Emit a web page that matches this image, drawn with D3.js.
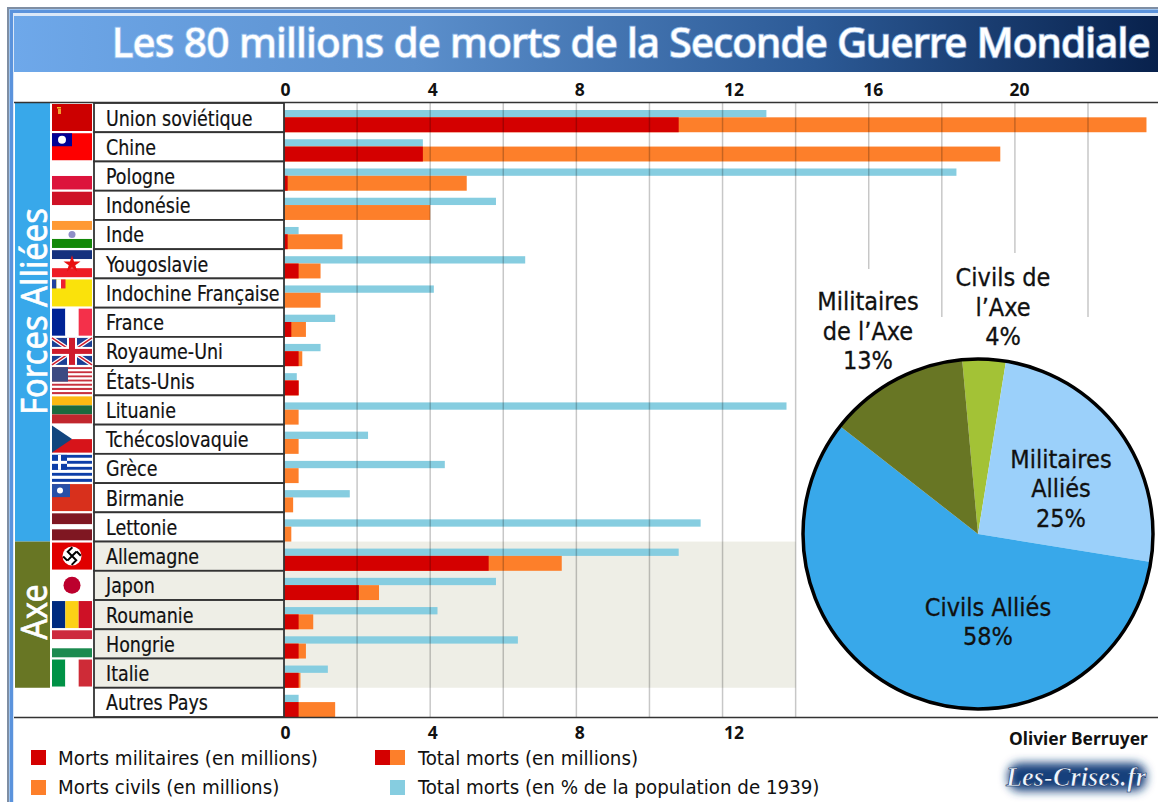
<!DOCTYPE html>
<html>
<head>
<meta charset="utf-8">
<script src="https://cdn.jsdelivr.net/npm/d3@7"></script>
<style>
  body { margin: 0; background: #fff; }
  svg { display: block; }
  text { font-family: "DejaVu Sans Condensed", "DejaVu Sans", sans-serif; fill: #111; }
  .tick text { font-family: "Noto Sans", sans-serif; font-weight: 700; font-size: 17.5px; fill: #111; }
</style>
</head>
<body>
<div id="chart"></div>
<script>
// Values
var countries = ["Union soviétique", "Chine", "Pologne", "Indonésie", "Inde", "Yougoslavie",
    "Indochine Française", "France", "Royaume-Uni", "États-Unis", "Lituanie", "Tchécoslovaquie",
    "Grèce", "Birmanie", "Lettonie", "Allemagne", "Japon", "Roumanie", "Hongrie", "Italie", "Autres Pays"];
var militaryDeaths = [10.8, 3.8, 0.1, 0, 0.1, 0.4, 0, 0.2, 0.4, 0.4, 0, 0, 0, 0, 0, 5.6, 2.05, 0.4, 0.4, 0.4, 0.4];
var totalDeaths = [23.6, 19.6, 5.0, 4.0, 1.6, 1.0, 1.0, 0.6, 0.5, 0.4, 0.4, 0.4, 0.4, 0.25, 0.2, 7.6, 2.6, 0.8, 0.6, 0.45, 1.4];
var populationPct = [13.2, 3.8, 18.4, 5.8, 0.4, 6.6, 4.1, 1.4, 1.0, 0.35, 13.75, 2.3, 4.4, 1.8, 11.4, 10.8, 5.8, 4.2, 6.4, 1.2, 0.4];

var topTicks = [0, 4, 8, 12, 16, 20];
var bottomTicks = [0, 4, 8, 12];
var gridValues = [2, 4, 6, 8, 10, 12, 14, 16, 18, 20, 22];

var pieLabels = ["Civils de l’Axe", "Militaires Alliés", "Civils Alliés", "Militaires de l’Axe"];
var pieValues = [4, 25, 58, 13];
var pieColors = ["#a3c236", "#9bd0fa", "#38a8ea", "#687624"];

var w = 1158, h = 802;
var red = "#d40000", orange = "#fd7f2a", blue = "#86cde0";

var svg = d3.select("#chart").append("svg").attr("width", w).attr("height", h);
var defs = svg.append("defs");

var titleGrad = defs.append("linearGradient").attr("id", "titleGrad");
titleGrad.append("stop").attr("offset", "0%").attr("stop-color", "#6ea8ea");
titleGrad.append("stop").attr("offset", "35%").attr("stop-color", "#5b8fcc");
titleGrad.append("stop").attr("offset", "70%").attr("stop-color", "#2c5a96");
titleGrad.append("stop").attr("offset", "100%").attr("stop-color", "#08214c");

defs.append("filter").attr("id", "blur").attr("x", "-30%").attr("y", "-50%").attr("width", "160%").attr("height", "200%")
    .append("feGaussianBlur").attr("stdDeviation", 5);

// Scales
var x = d3.scaleLinear().domain([0, 22]).range([284, 1088]);
var y = d3.scaleBand().domain(countries).range([103, 717]);
var rowH = y.bandwidth();

// Window frame
svg.append("rect").attr("x", 7).attr("y", 7).attr("width", w).attr("height", h).attr("fill", "#7f8ea3");
svg.append("rect").attr("x", 9).attr("y", 9).attr("width", w).attr("height", h).attr("fill", "#9cc3f0");
svg.append("rect").attr("x", 10).attr("y", 10).attr("width", w).attr("height", h).attr("fill", "#5b93dc");
svg.append("rect").attr("x", 13).attr("y", 13).attr("width", w).attr("height", h).attr("fill", "#dbe8f8");
svg.append("rect").attr("x", 14).attr("y", 72).attr("width", w).attr("height", h).attr("fill", "#fff");

// Title
svg.append("rect").attr("x", 14).attr("y", 16).attr("width", w - 14).attr("height", 56).attr("fill", "url(#titleGrad)");
var titleText = "Les 80 millions de morts de la Seconde Guerre Mondiale";
var title = svg.append("text")
    .attr("x", 112).attr("y", 57)
    .style("font-family", "'Noto Sans', sans-serif").style("font-size", "40px")
    .style("fill", "#fff").style("stroke", "#fff").style("stroke-width", 0.5)
    .text(titleText);
// spread the letters to the width of the original title
title.style("letter-spacing", ((1038 - title.node().getComputedTextLength()) / titleText.length) + "px");
svg.insert(function() { return title.node().cloneNode(true); }, function() { return title.node(); })
    .style("stroke", "#a8cbf5").style("stroke-width", 2.6).style("stroke-opacity", 0.75);

// Axis background
svg.append("rect").attr("x", 94).attr("y", y("Allemagne"))
    .attr("width", x(14) - 94).attr("height", y("Italie") + rowH - y("Allemagne")).attr("fill", "#eeeee6");

// Bars
var rows = svg.append("g").selectAll("g").data(countries).enter().append("g")
    .attr("transform", function(d) { return "translate(0," + y(d) + ")"; });

rows.append("rect")
    .attr("x", x(0)).attr("y", rowH * 0.24)
    .attr("width", function(d, i) { return x(populationPct[i]) - x(0); })
    .attr("height", rowH * 0.25).attr("fill", blue);
rows.append("rect")
    .attr("x", x(0)).attr("y", rowH * 0.49)
    .attr("width", function(d, i) { return x(totalDeaths[i]) - x(0); })
    .attr("height", rowH * 0.51).attr("fill", orange);
rows.append("rect")
    .attr("x", x(0)).attr("y", rowH * 0.49)
    .attr("width", function(d, i) { return x(militaryDeaths[i]) - x(0); })
    .attr("height", rowH * 0.51).attr("fill", red);

// Grid lines stop above the pie labels
var gridEnd = { 16: 269, 18: 317, 20: 253, 22: 317 };
svg.append("g").selectAll("line").data(gridValues).enter().append("line")
    .attr("x1", function(d) { return x(d); }).attr("x2", function(d) { return x(d); })
    .attr("y1", 103).attr("y2", function(d) { return gridEnd[d] || 717; })
    .attr("stroke", "rgba(0,0,0,0.22)").attr("stroke-width", 1.5);

// Axes, the labels sit a little right of their grid line in the original
var tickShift = { 0: 1, 4: 2, 8: 3, 12: 11, 16: 4, 20: 4 };
function styleAxis(g) {
    g.select(".domain").remove();
    g.selectAll(".tick text").attr("dx", function(d) { return tickShift[d]; });
}
svg.append("g").attr("transform", "translate(0,96)")
    .call(d3.axisTop(x).tickValues(topTicks).tickSize(0).tickPadding(0))
    .call(styleAxis);
svg.append("g").attr("transform", "translate(0,739)")
    .call(d3.axisTop(x).tickValues(bottomTicks).tickSize(0).tickPadding(0))
    .call(styleAxis);

// Country cells
rows.append("rect")
    .attr("x", 94).attr("y", 0).attr("width", 190).attr("height", rowH)
    .attr("fill", function(d, i) { return i >= 15 && i <= 19 ? "#eeeee6" : "#fff"; })
    .attr("stroke", "#333").attr("stroke-width", 1.8);
rows.append("text")
    .attr("x", 106).attr("y", rowH * 0.77)
    .style("font-size", "21px").style("stroke", "#111").style("stroke-width", 0.2)
    .text(function(d) { return d; })
    .attr("textLength", function() { return this.getComputedTextLength() * 0.925; })
    .attr("lengthAdjust", "spacingAndGlyphs");

// Camps
function camp(first, last, color, label, center, len) {
    var top = y(first), bottom = y(last) + rowH;
    svg.append("rect").attr("x", 15).attr("y", top).attr("width", 35).attr("height", bottom - top).attr("fill", color);
    svg.append("text")
        .attr("transform", "translate(47," + center + ") rotate(-90)")
        .attr("text-anchor", "middle")
        .attr("textLength", len).attr("lengthAdjust", "spacingAndGlyphs")
        .style("font-family", "'Noto Sans', sans-serif").style("font-size", "36px")
        .style("fill", "#fff").style("stroke", "#fff").style("stroke-width", 0.6)
        .text(label);
}
camp("Union soviétique", "Lettonie", "#38a8ea", "Forces Alliées", 311.5, 207);
camp("Allemagne", "Italie", "#687624", "Axe", 612, 55);

// Flags, drawn in a 40x27 box
function hBands(g, colors) {
    colors.forEach(function(c, i) {
        g.append("rect").attr("y", i * 27 / colors.length).attr("width", 40).attr("height", 27 / colors.length).attr("fill", c);
    });
}
function vBands(g, colors) {
    colors.forEach(function(c, i) {
        g.append("rect").attr("x", i * 40 / colors.length).attr("width", 40 / colors.length).attr("height", 27).attr("fill", c);
    });
}
function box(g, bx, by, bw, bh, c) {
    g.append("rect").attr("x", bx).attr("y", by).attr("width", bw).attr("height", bh).attr("fill", c);
}
function disc(g, cx, cy, r, c) {
    g.append("circle").attr("cx", cx).attr("cy", cy).attr("r", r).attr("fill", c);
}
function bar(g, x1, y1, x2, y2, c, sw) {
    g.append("line").attr("x1", x1).attr("y1", y1).attr("x2", x2).attr("y2", y2).attr("stroke", c).attr("stroke-width", sw);
}
var flags = {
    "Union soviétique": function(g) { hBands(g, ["#cc0000"]); box(g, 5, 3, 4, 1.5, "#f2c230"); box(g, 6, 5, 3, 5, "#f2a030"); },
    "Chine": function(g) { hBands(g, ["#fe0000"]); box(g, 0, 0, 20, 13, "#000095"); disc(g, 10, 6.5, 4, "#fff"); },
    "Pologne": function(g) { hBands(g, ["#fff", "#dc143c"]); },
    "Indonésie": function(g) { hBands(g, ["#ce1126", "#fff"]); },
    "Inde": function(g) { hBands(g, ["#ff9933", "#fff", "#138808"]); disc(g, 20, 13.5, 3.5, "#8f8fc8"); },
    "Yougoslavie": function(g) {
        hBands(g, ["#15317e", "#fff", "#ee1c25"]);
        g.append("path").attr("transform", "translate(20,14)").attr("fill", "#e81010")
            .attr("d", d3.symbol().type(d3.symbolStar).size(90)());
    },
    "Indochine Française": function(g) { hBands(g, ["#fae20b"]); box(g, 0, 0, 4.5, 9, "#2040a0"); box(g, 4.5, 0, 4.5, 9, "#fff"); box(g, 9, 0, 4.5, 9, "#ee2030"); },
    "France": function(g) { vBands(g, ["#002395", "#fff", "#f4304a"]); },
    "Royaume-Uni": function(g) {
        hBands(g, ["#1c3f94"]);
        bar(g, 0, 0, 40, 27, "#fff", 4); bar(g, 40, 0, 0, 27, "#fff", 4);
        bar(g, 0, 0, 40, 27, "#cf1b2b", 1.5); bar(g, 40, 0, 0, 27, "#cf1b2b", 1.5);
        box(g, 15, 0, 10, 27, "#fff"); box(g, 0, 9, 40, 9, "#fff");
        box(g, 17, 0, 6, 27, "#cf1b2b"); box(g, 0, 11, 40, 5, "#cf1b2b");
    },
    "États-Unis": function(g) {
        hBands(g, ["#c8313e", "#fff", "#c8313e", "#fff", "#c8313e", "#fff", "#c8313e", "#fff", "#c8313e", "#fff", "#c8313e", "#fff", "#c8313e"]);
        box(g, 0, 0, 16, 14.5, "#3c4a82");
    },
    "Lituanie": function(g) { hBands(g, ["#fdb913", "#1c6a3e", "#c1272d"]); },
    "Tchécoslovaquie": function(g) {
        hBands(g, ["#fff", "#d7141a"]);
        g.append("path").attr("fill", "#11457e").attr("d", "M0,0L20,13.5L0,27Z");
    },
    "Grèce": function(g) {
        hBands(g, ["#0d3ea8", "#fff", "#0d3ea8", "#fff", "#0d3ea8", "#fff", "#0d3ea8", "#fff", "#0d3ea8"]);
        box(g, 0, 0, 15, 15, "#0d3ea8"); box(g, 6, 0, 3, 15, "#fff"); box(g, 0, 6, 15, 3, "#fff");
    },
    "Birmanie": function(g) { hBands(g, ["#d8301c"]); box(g, 0, 0, 18, 13, "#2850a8"); disc(g, 8, 6.5, 3, "#fff"); },
    "Lettonie": function(g) { box(g, 0, 0, 40, 11, "#7f1722"); box(g, 0, 11, 40, 5, "#fff"); box(g, 0, 16, 40, 11, "#7f1722"); },
    "Allemagne": function(g) {
        hBands(g, ["#e00000"]); disc(g, 20, 13.5, 9.5, "#fff");
        g.append("path").attr("transform", "rotate(45 20 13.5)").attr("fill", "none").attr("stroke", "#000").attr("stroke-width", 2)
            .attr("d", "M20,7V13.5H26V20M20,20V13.5H14V7M14,20H20M26,7H20");
    },
    "Japon": function(g) { hBands(g, ["#fff"]); disc(g, 20, 13.5, 8.5, "#bc002d"); },
    "Roumanie": function(g) { vBands(g, ["#002b7f", "#fcd116", "#ce1126"]); },
    "Hongrie": function(g) { hBands(g, ["#cd2a3e", "#fff", "#1b8a4f"]); },
    "Italie": function(g) { vBands(g, ["#009246", "#fff", "#ce2b37"]); }
};
rows.each(function(d) {
    if (!flags[d]) return;
    var g = d3.select(this).append("g").attr("transform", "translate(52,1)");
    flags[d](g);
});

// Frame rules of the table
svg.append("line").attr("x1", 14).attr("x2", w).attr("y1", 102.5).attr("y2", 102.5).attr("stroke", "#333").attr("stroke-width", 1.5);
svg.append("line").attr("x1", 14).attr("x2", w).attr("y1", 717.5).attr("y2", 717.5).attr("stroke", "#333").attr("stroke-width", 1.5);

// Pie
var pie = d3.pie().sort(null).startAngle(-5.2 * Math.PI / 180).endAngle(354.8 * Math.PI / 180);
var arc = d3.arc().innerRadius(0).outerRadius(175);
var pieG = svg.append("g").attr("transform", "translate(978,534)");
pieG.selectAll("path").data(pie(pieValues)).enter().append("path")
    .attr("d", arc)
    .attr("fill", function(d, i) { return pieColors[i]; });
pieG.append("circle").attr("r", 175).attr("fill", "none").attr("stroke", "#000").attr("stroke-width", 3.5);

function pieLabel(cx, baselines, lines) {
    var t = svg.append("text").attr("text-anchor", "middle")
        .style("font-size", "25px").style("stroke", "#111").style("stroke-width", 0.3);
    lines.forEach(function(line, i) {
        t.append("tspan").attr("x", cx).attr("y", baselines[i]).text(line);
    });
}
pieLabel(1003, [286, 316, 345], ["Civils de", "l’Axe", pieValues[0] + "%"]);
pieLabel(868, [310, 340, 369], ["Militaires", "de l’Axe", pieValues[3] + "%"]);
pieLabel(1061, [468, 497, 527], ["Militaires", "Alliés", pieValues[1] + "%"]);
pieLabel(988, [616, 645], ["Civils Alliés", pieValues[2] + "%"]);

// Legend
var legend = svg.append("g").style("font-size", "20.3px");
function swatch(sx, sy, color) {
    legend.append("rect").attr("x", sx).attr("y", sy).attr("width", 15).attr("height", 15).attr("fill", color);
}
function legendText(tx, ty, label) {
    legend.append("text").attr("x", tx).attr("y", ty).text(label);
}
swatch(31, 750, red);
legendText(58, 765, "Morts militaires (en millions)");
swatch(31, 780, orange);
legendText(58, 794, "Morts civils (en millions)");
swatch(375, 750, red);
swatch(390, 750, orange);
legendText(418, 765, "Total morts (en millions)");
swatch(390, 780, blue);
legendText(418, 794, "Total morts (en % de la population de 1939)");

// Credit
svg.append("text").attr("x", 1009).attr("y", 745)
    .style("font-family", "'Noto Sans', sans-serif").style("font-weight", 700).style("font-size", "17.4px")
    .text("Olivier Berruyer");
svg.append("rect").attr("x", 1008).attr("y", 763).attr("width", 138).attr("height", 28).attr("rx", 12)
    .attr("fill", "#123f7c").attr("filter", "url(#blur)");
svg.append("text").attr("x", 1006).attr("y", 786)
    .attr("textLength", 140).attr("lengthAdjust", "spacingAndGlyphs")
    .style("font-family", "'Liberation Serif', serif").style("font-style", "italic").style("font-weight", 700)
    .style("font-size", "27px").style("fill", "#eef5ff").style("stroke", "#0c2c60").style("stroke-width", 0.6)
    .text("Les-Crises.fr");
</script>
</body>
</html>
